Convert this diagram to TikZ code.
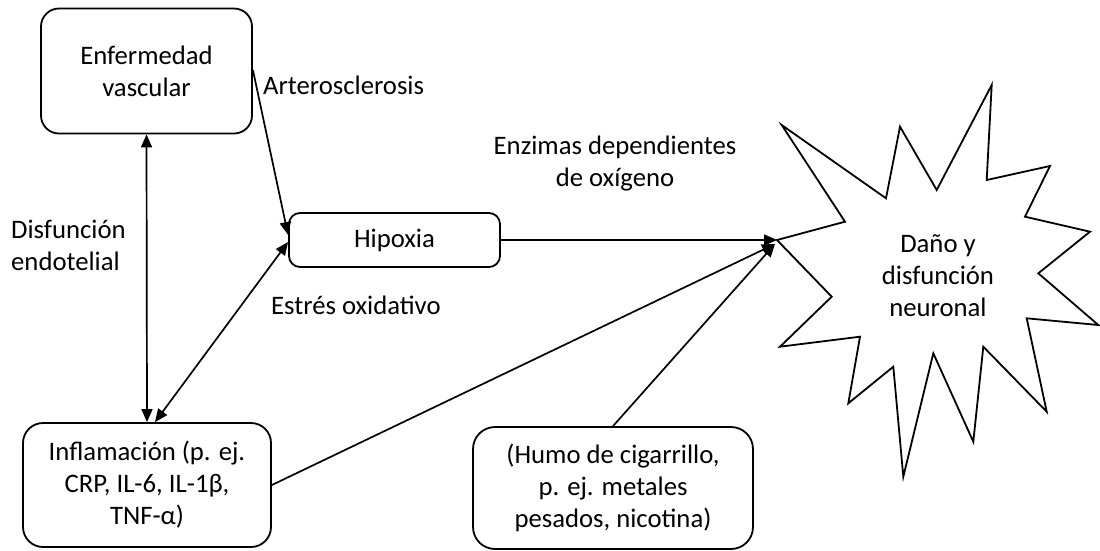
\documentclass[tikz,border=0pt]{standalone}
\usepackage{fontspec}
\setmainfont{Carlito}
\usetikzlibrary{shapes,arrows.meta,positioning}

\begin{document}
\begin{tikzpicture}[x=1pt,y=-1pt]
	\tikzstyle{Txt}		= [font=\fontsize{26.7}{32}\selectfont]
	\tikzstyle{Box}		= [Txt, draw, line width=1.8pt, align=center, inner sep=0pt, fill=white]
	\tikzstyle{Label}	= [Txt, inner sep=0pt]
	\tikzstyle{Arr}		= [line width=1.7pt, -{Triangle[length=13pt,width=11pt]}]
	\tikzstyle{BiArr}	= [line width=1.7pt, {Triangle[length=13pt,width=11pt]}-{Triangle[length=13pt,width=11pt]}]
	\tikzstyle{Star}	= [line width=1.8pt, line join=miter]

	\useasboundingbox (0,0) rectangle (1100,550);

	% starburst
	\draw [Star] (991.7,85) -- (986.7,180) -- (1050,166) -- (1025,216.7) -- (1090,231.7) -- (1038.3,273.3)
		-- (1098.3,325) -- (1026.7,318.3) -- (1046.7,411.7) -- (983.3,346.7) -- (973.3,441.7) -- (933.3,353.3)
		-- (903.3,476.7) -- (893.3,366.7) -- (848.3,403.3) -- (860,336.7) -- (780,346.7) -- (831.7,296.7)
		-- (777,240) -- (845,221.7) -- (781.7,125) -- (886,198.3) -- (900,126.7) -- (936.7,190) -- cycle;
	\coordinate (tip) at (777,240);
	\node (dmg) at (938,276) [Label, align=center] {Daño y\\disfunción\\neuronal};

	% boxes
	\node (ev) at (146.5,71) [Box, minimum width=211pt, minimum height=125pt, rounded corners=18pt] {Enfermedad\\vascular};
	\node (hip) at (394.5,240) [Box, minimum width=211pt, minimum height=54pt, rounded corners=11pt] {Hipoxia};
	\node (inf) at (147,485) [Box, minimum width=248pt, minimum height=124pt, rounded corners=20pt] {Inflamación (p. ej.\\CRP, IL-6, IL-1β,\\TNF-α)};
	\node (smk) at (613,488) [Box, minimum width=280pt, minimum height=122pt, rounded corners=22pt] {(Humo de cigarrillo,\\p. ej. metales\\pesados, nicotina)};

	% labels
	\node (ath) at (263,85) [Label, anchor=west] {Arterosclerosis};
	\node (endo) at (11,245) [Label, anchor=west, align=left] {Disfunción\\endotelial};
	\node (ox) at (271,305) [Label, anchor=west] {Estrés oxidativo};
	\node (enz) at (615,164) [Label, align=center] {Enzimas dependientes\\de oxígeno};

	% connectors
	\draw [BiArr] (ev.south) to (inf.north);
	\draw [Arr] ([yshift=1pt]ev.east) to ([yshift=5pt]hip.west);
	\draw [BiArr] ([xshift=8pt]inf.north) to ([yshift=-2pt]hip.west);
	\draw [Arr] (hip.east) to (tip);
	\draw [Arr] (inf.east) to ([shift={(-2pt,-4pt)}]tip);
	\draw [Arr] (smk.north) to ([shift={(-2pt,-4pt)}]tip);
\end{tikzpicture}
\end{document}
